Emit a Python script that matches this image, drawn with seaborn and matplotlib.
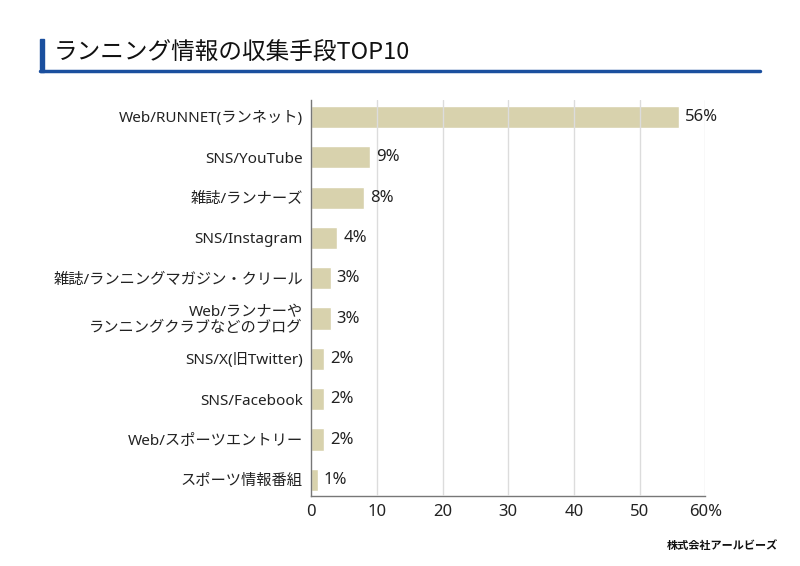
import matplotlib
matplotlib.use("Agg")
import matplotlib.pyplot as plt
import seaborn as sns
import pandas as pd
from matplotlib.patches import Rectangle
from matplotlib.lines import Line2D

categories = [
    "Web/RUNNET(ランネット)",
    "SNS/YouTube",
    "雑誌/ランナーズ",
    "SNS/Instagram",
    "雑誌/ランニングマガジン・クリール",
    "Web/ランナーや\nランニングクラブなどのブログ",
    "SNS/X(旧Twitter)",
    "SNS/Facebook",
    "Web/スポーツエントリー",
    "スポーツ情報番組",
]
values = [56, 9, 8, 4, 3, 3, 2, 2, 2, 1]
xticks = [0, 10, 20, 30, 40, 50, 60]
xtick_labels = ["0", "10", "20", "30", "40", "50", "60%"]

df = pd.DataFrame({"category": categories, "value": values})

sns.set_theme(style="white")
plt.rcParams['font.family'] = ['Noto Sans', 'Noto Sans CJK JP', 'DejaVu Sans']

fig = plt.figure(figsize=(8, 5.66), dpi=100)
ax = fig.add_axes([0.389, 0.1237, 0.4925, 0.6996])

sns.barplot(data=df, y="category", x="value", orient="h", color="#D8D2AD",
            saturation=1, width=0.55, ax=ax, zorder=1)

ax.set_xlim(0, 60)
ax.set_ylim(9.4, -0.42)
ax.set_xticks(xticks)
ax.set_xticklabels(xtick_labels, fontsize=12, color="#222222")
ax.tick_params(axis="y", labelsize=11, colors="#222222", length=0, pad=6)
ax.tick_params(axis="x", length=0, pad=6)
for lbl in ax.get_yticklabels():
    lbl.set_multialignment("right")
    lbl.set_linespacing(1.0)
ax.set_xlabel("")
ax.set_ylabel("")

for xv in xticks[1:]:
    ax.axvline(xv, color="#DCDCDC", lw=1.0, zorder=3)

for sp in ["top", "right"]:
    ax.spines[sp].set_visible(False)
ax.spines["left"].set_color("#777777")
ax.spines["left"].set_linewidth(1.0)
ax.spines["left"].set_zorder(4)
ax.spines["bottom"].set_color("#777777")
ax.spines["bottom"].set_linewidth(1.0)

for i, v in enumerate(values):
    ax.text(v + 0.9, i, f"{v}%", va="center", ha="left", fontsize=12, color="#222222")

# title decoration
blue = "#1A4F9E"
fig.patches.append(Rectangle((40/800, 1-72/566), 4/800, 33/566, transform=fig.transFigure,
                             color=blue, zorder=5))
fig.lines.append(Line2D([40/800, 760/800], [1-70.5/566, 1-70.5/566], transform=fig.transFigure,
                        color=blue, lw=2.5))
fig.text(54/800, 1-53/566, "ランニング情報の収集手段TOP10", fontsize=17, va="center", ha="left",
         color="#111111", family=['Noto Sans CJK JP', 'DejaVu Sans'])
fig.text(778/800, 1-545/566, "株式会社アールビーズ", fontsize=8, fontweight="bold",
         fontstyle="italic", ha="right", va="center", color="#111111",
         family=['Noto Sans CJK JP', 'DejaVu Sans'])

fig.savefig("out.png", dpi=100, facecolor="white")
